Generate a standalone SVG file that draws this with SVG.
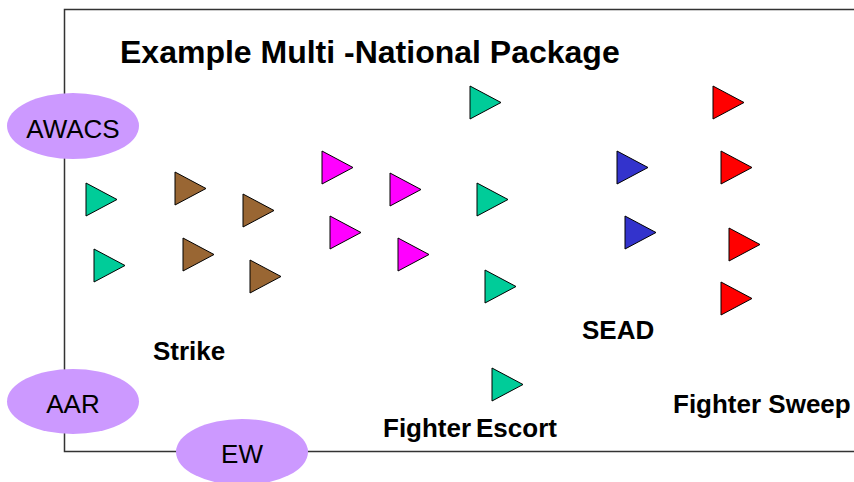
<svg xmlns="http://www.w3.org/2000/svg" xmlns:xlink="http://www.w3.org/1999/xlink" width="854" height="482" viewBox="0 0 854 482">
<style>
.frame{fill:none;stroke:#333;stroke-width:1.5}
.tri{stroke:#000;stroke-width:1}
.g{fill:#00CC99}.b{fill:#996633}.m{fill:#FF00FF}.u{fill:#3333CC}.r{fill:#FF0000}
.ell{fill:#CC99FF}
.et{font-family:"Liberation Sans",Arial,sans-serif;font-size:26px;fill:#000;text-anchor:middle}
.lb{font-family:"Liberation Sans",Arial,sans-serif;font-size:26px;font-weight:bold;fill:#000}
.title{font-family:"Liberation Sans",Arial,sans-serif;font-size:32px;font-weight:bold;fill:#000}
</style>
<defs>
<path id="t" d="M0,0 L31,16.5 L0,33 Z"/>
</defs>
<rect width="854" height="482" fill="#fff"/>
<path class="frame" d="M854,9.5 H64.5 V451.5 H854"/>
<text class="title" x="120" y="63">Example Multi -National Package</text>
<g id="strike">
<use href="#t" class="tri g" x="86" y="183"/>
<use href="#t" class="tri g" x="94" y="249"/>
<use href="#t" class="tri b" x="175" y="172"/>
<use href="#t" class="tri b" x="243" y="194"/>
<use href="#t" class="tri b" x="183" y="238"/>
<use href="#t" class="tri b" x="250" y="260"/>
<use href="#t" class="tri m" x="322" y="151"/>
<use href="#t" class="tri m" x="390" y="173"/>
<use href="#t" class="tri m" x="330" y="216"/>
<use href="#t" class="tri m" x="398" y="238"/>
<text class="lb" x="153" y="360">Strike</text>
</g>
<g id="escort">
<use href="#t" class="tri g" x="470" y="86"/>
<use href="#t" class="tri g" x="477" y="183"/>
<use href="#t" class="tri g" x="485" y="270"/>
<use href="#t" class="tri g" x="492" y="368"/>
<text class="lb" x="383" y="437">Fighter</text>
<text class="lb" x="476" y="437">Escort</text>
</g>
<g id="sead">
<use href="#t" class="tri u" x="617" y="151"/>
<use href="#t" class="tri u" x="625" y="216"/>
<text class="lb" x="582" y="339">SEAD</text>
</g>
<g id="sweep">
<use href="#t" class="tri r" x="713" y="86"/>
<use href="#t" class="tri r" x="721" y="151"/>
<use href="#t" class="tri r" x="729" y="228"/>
<use href="#t" class="tri r" x="721" y="282"/>
<text class="lb" x="673" y="413">Fighter Sweep</text>
</g>
<g id="awacs">
<ellipse class="ell" cx="73" cy="126" rx="66" ry="33"/>
<text class="et" x="73" y="138">AWACS</text>
</g>
<g id="aar">
<ellipse class="ell" cx="73" cy="401.5" rx="66" ry="32.5"/>
<text class="et" x="73" y="413">AAR</text>
</g>
<g id="ew">
<ellipse class="ell" cx="242" cy="452" rx="66" ry="33"/>
<text class="et" x="242" y="463">EW</text>
</g>
</svg>
